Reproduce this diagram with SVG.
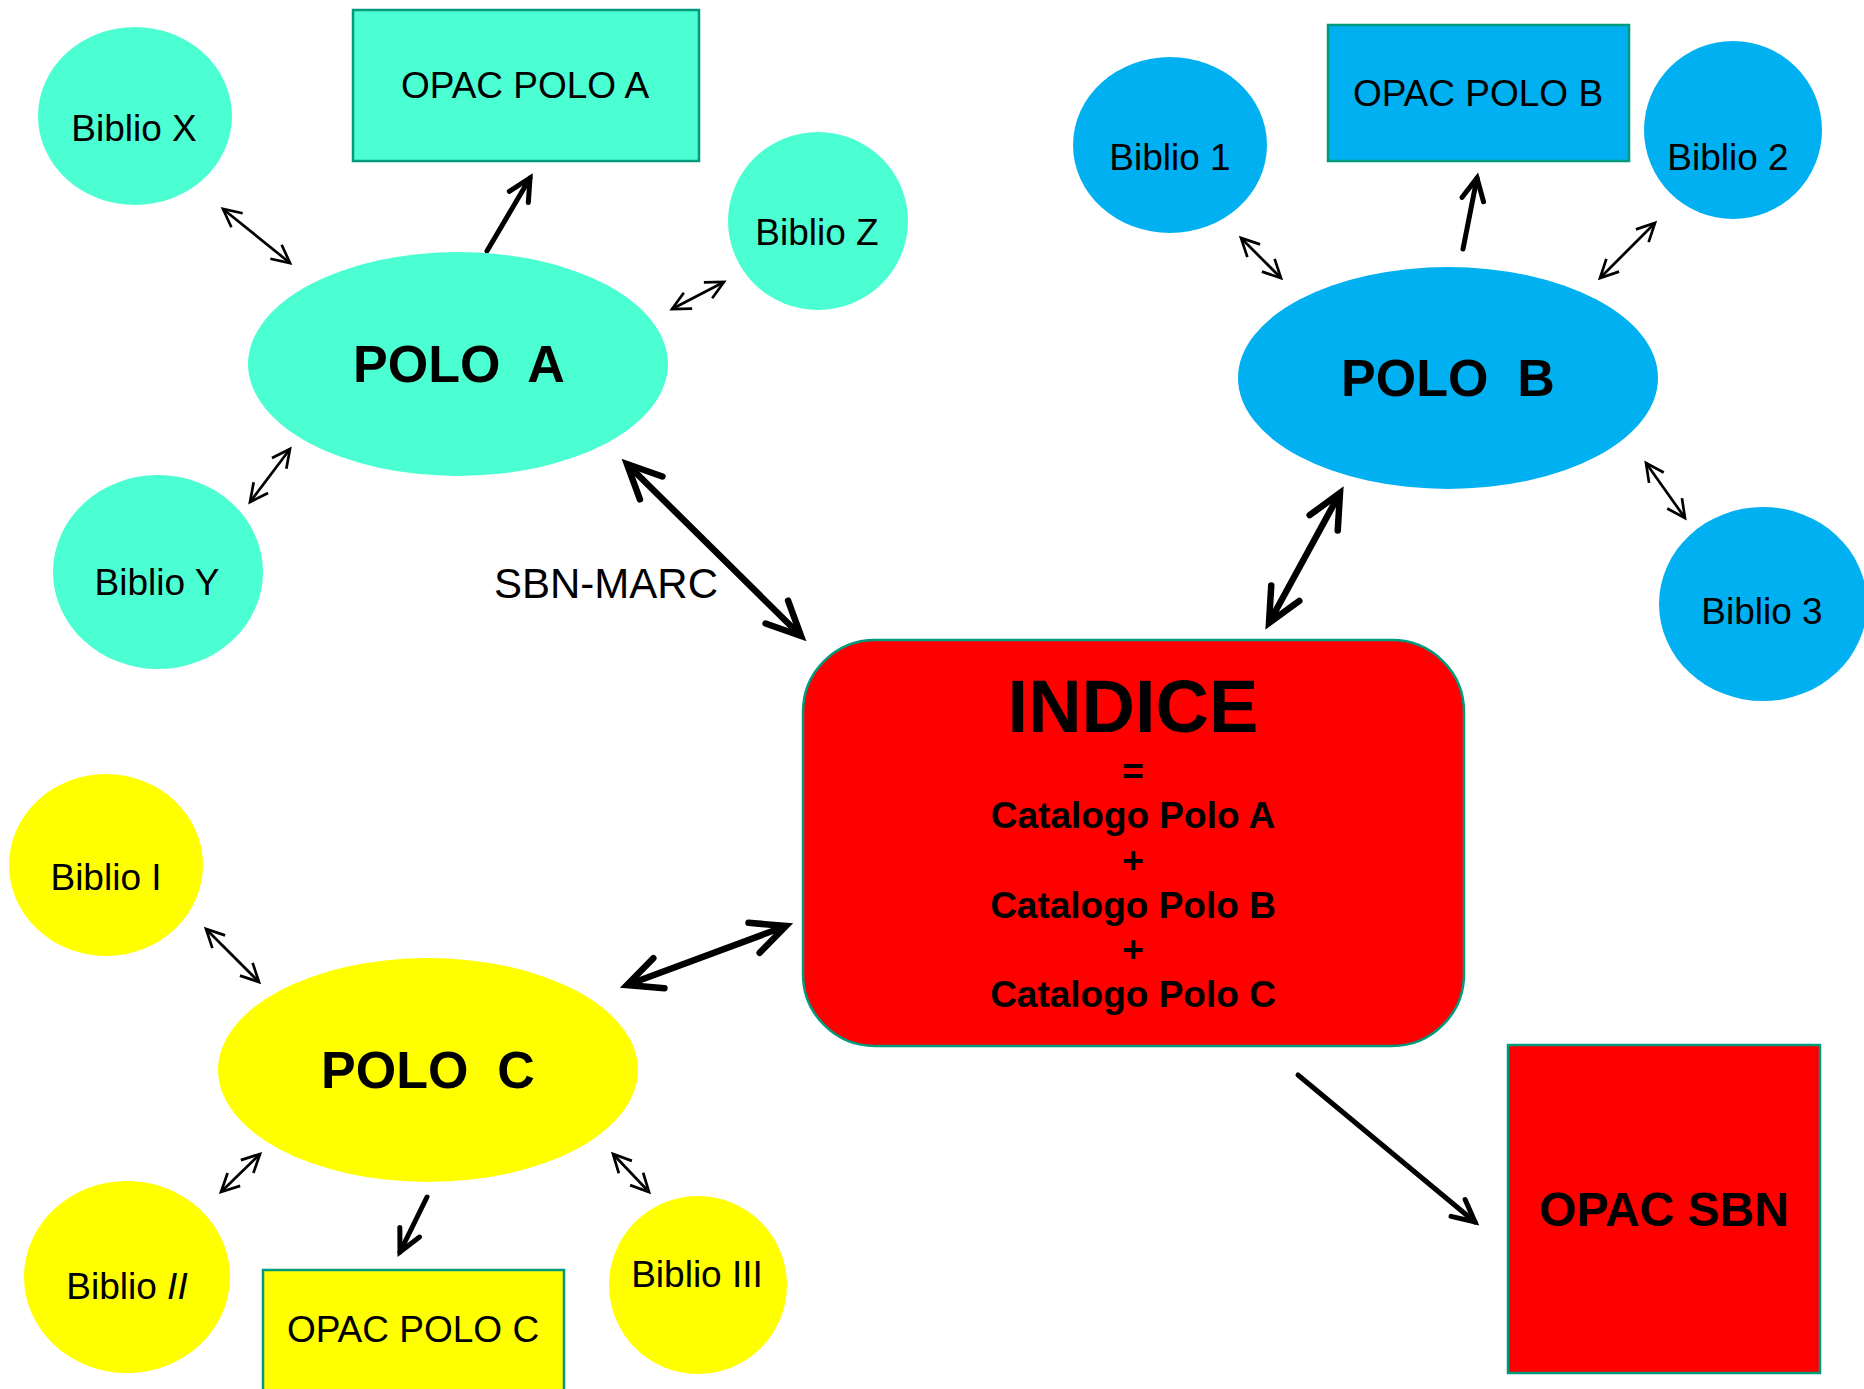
<svg xmlns="http://www.w3.org/2000/svg" width="1864" height="1389" viewBox="0 0 1864 1389">
<style>
text{font-family:"Liberation Sans",Arial,sans-serif;fill:#000;text-anchor:middle}
.lbl{font-size:37px}
.pole{font-size:52px;font-weight:bold;white-space:pre}
.cat{font-size:37px;font-weight:bold}
.teal{fill:#4CFFD2}
.blue{fill:#00B0F0}
.yel{fill:#FFFF00}
.red{fill:#FF0000}
.box{stroke:#009B7D;stroke-width:2.5}
.c1{stroke:#000;stroke-width:2.7;fill:none;marker-start:url(#mt);marker-end:url(#mt)}
.c2{stroke:#000;stroke-width:5;fill:none;stroke-linecap:round;marker-end:url(#mm)}
.c3{stroke:#000;stroke-width:6.5;fill:none;marker-start:url(#mb);marker-end:url(#mb)}
</style>
<defs>
<marker id="mt" markerUnits="userSpaceOnUse" viewBox="-22 -12 26 24" refX="0" refY="0" markerWidth="26" markerHeight="24" orient="auto-start-reverse" overflow="visible">
<path d="M-18,-9 L0,0 L-18,9" fill="none" stroke="#000" stroke-width="2.7"/>
</marker>
<marker id="mm" markerUnits="userSpaceOnUse" viewBox="-30 -16 34 32" refX="0" refY="0" markerWidth="34" markerHeight="32" orient="auto-start-reverse" overflow="visible">
<path d="M-22,-11 L0,0 L-22,11" fill="none" stroke="#000" stroke-width="5" stroke-linecap="round"/>
</marker>
<marker id="mb" markerUnits="userSpaceOnUse" viewBox="-40 -22 46 44" refX="0" refY="0" markerWidth="46" markerHeight="44" orient="auto-start-reverse" overflow="visible">
<path d="M-34,-16 L0,0 L-34,16" fill="none" stroke="#000" stroke-width="6.5" stroke-linecap="round"/>
</marker>
</defs>
<rect width="1864" height="1389" fill="#fff"/>

<g id="connectors">
<line class="c1" x1="223" y1="209" x2="290" y2="263"/>
<line class="c2" x1="487" y1="251" x2="530" y2="178"/>
<line class="c1" x1="672" y1="309" x2="724" y2="282"/>
<line class="c1" x1="290" y1="449" x2="250" y2="502"/>
<line class="c3" x1="627" y1="464" x2="801" y2="636"/>
<line class="c1" x1="1241" y1="238" x2="1281" y2="278"/>
<line class="c2" x1="1463" y1="249" x2="1477" y2="178"/>
<line class="c1" x1="1600" y1="278" x2="1655" y2="223"/>
<line class="c1" x1="1646" y1="463" x2="1685" y2="518"/>
<line class="c3" x1="1340" y1="493" x2="1269" y2="623"/>
<line class="c1" x1="206" y1="929" x2="259" y2="982"/>
<line class="c3" x1="627" y1="985" x2="786" y2="926"/>
<line class="c1" x1="260" y1="1154" x2="221" y2="1192"/>
<line class="c2" x1="427" y1="1197" x2="400" y2="1252"/>
<line class="c1" x1="613" y1="1154" x2="649" y2="1192"/>
<line class="c2" x1="1298" y1="1075" x2="1475" y2="1222"/>
</g>

<g id="polo-a">
<ellipse class="teal" cx="458" cy="364" rx="210" ry="112"/>
<text class="pole" x="459" y="382">POLO  A</text>
</g>
<g id="opac-polo-a">
<rect class="teal box" x="353" y="10" width="346" height="151"/>
<text class="lbl" x="525" y="98">OPAC POLO A</text>
</g>
<g id="biblio-x">
<ellipse class="teal" cx="135" cy="116" rx="97" ry="89"/>
<text class="lbl" x="134" y="141">Biblio X</text>
</g>
<g id="biblio-z">
<ellipse class="teal" cx="818" cy="221" rx="90" ry="89"/>
<text class="lbl" x="817" y="245">Biblio Z</text>
</g>
<g id="biblio-y">
<ellipse class="teal" cx="158" cy="572" rx="105" ry="97"/>
<text class="lbl" x="157" y="595">Biblio Y</text>
</g>
<g id="sbn-marc-label">
<text x="606" y="598" style="font-size:42px">SBN-MARC</text>
</g>

<g id="polo-b">
<ellipse class="blue" cx="1448" cy="378" rx="210" ry="111"/>
<text class="pole" x="1448" y="396">POLO  B</text>
</g>
<g id="opac-polo-b">
<rect class="blue box" x="1328" y="25" width="301" height="136"/>
<text class="lbl" x="1478" y="106">OPAC POLO B</text>
</g>
<g id="biblio-1">
<ellipse class="blue" cx="1170" cy="145" rx="97" ry="88"/>
<text class="lbl" x="1170" y="170">Biblio 1</text>
</g>
<g id="biblio-2">
<ellipse class="blue" cx="1733" cy="130" rx="89" ry="89"/>
<text class="lbl" x="1728" y="170">Biblio 2</text>
</g>
<g id="biblio-3">
<ellipse class="blue" cx="1763" cy="604" rx="104" ry="97"/>
<text class="lbl" x="1762" y="624">Biblio 3</text>
</g>

<g id="indice">
<rect class="red box" x="803" y="640" width="661" height="406" rx="72" ry="72"/>
<text x="1133" y="732" style="font-size:74px;font-weight:bold">INDICE</text>
<text class="cat" x="1133" y="784">=</text>
<text class="cat" x="1133" y="828">Catalogo Polo A</text>
<text class="cat" x="1133" y="873">+</text>
<text class="cat" x="1133" y="918">Catalogo Polo B</text>
<text class="cat" x="1133" y="962">+</text>
<text class="cat" x="1133" y="1007">Catalogo Polo C</text>
</g>
<g id="opac-sbn">
<rect class="red box" x="1508" y="1045" width="312" height="328"/>
<text x="1664" y="1226" style="font-size:48px;font-weight:bold">OPAC SBN</text>
</g>

<g id="polo-c">
<ellipse class="yel" cx="428" cy="1070" rx="210" ry="112"/>
<text class="pole" x="428" y="1088">POLO  C</text>
</g>
<g id="biblio-i">
<ellipse class="yel" cx="106" cy="865" rx="97" ry="91"/>
<text class="lbl" x="106" y="890">Biblio I</text>
</g>
<g id="biblio-ii">
<ellipse class="yel" cx="127" cy="1277" rx="103" ry="96"/>
<text class="lbl" x="127" y="1299">Biblio <tspan font-style="italic">II</tspan></text>
</g>
<g id="opac-polo-c">
<rect class="yel box" x="263" y="1270" width="301" height="130"/>
<text class="lbl" x="413" y="1342">OPAC POLO C</text>
</g>
<g id="biblio-iii">
<ellipse class="yel" cx="698" cy="1285" rx="89" ry="89"/>
<text class="lbl" x="697" y="1287">Biblio III</text>
</g>
</svg>
